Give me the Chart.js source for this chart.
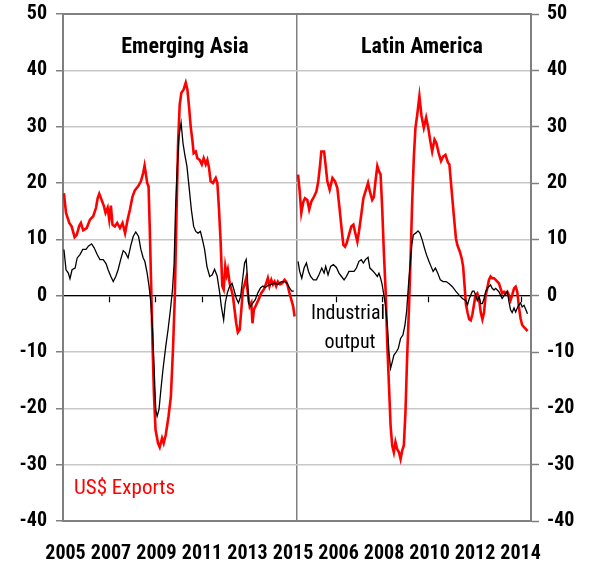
<!DOCTYPE html>
<html lang="en">
<head>
<meta charset="utf-8">
<script src="https://cdn.jsdelivr.net/npm/chart.js"></script>
<title>Exports and industrial output</title>
<style>
  body { margin: 0; background: #fff; }
</style>
</head>
<body>
<div style="width: 591px; height: 571px;">
  <canvas id="myChart" width="591" height="571"></canvas>
</div>
<script>
  const FONT = '"Roboto Condensed", "Liberation Sans Narrow", "Arial Narrow", Arial, sans-serif';

  // both panels run from 2005 to early 2015 (decimal years, % y/y)
  const PANEL_START = 2005;
  const PANEL_SPAN = 10.04;

  const asiaExportDates = [2005.04,2005.13,2005.27,2005.37,2005.50,2005.59,2005.70,2005.77,2005.87,2006.02,2006.16,2006.30,2006.42,2006.49,2006.56,2006.66,2006.76,2006.83,2006.92,2006.99,2007.06,2007.13,2007.23,2007.33,2007.45,2007.56,2007.67,2007.78,2007.88,2007.99,2008.09,2008.23,2008.35,2008.45,2008.51,2008.56,2008.62,2008.68,2008.73,2008.79,2008.85,2008.91,2008.98,2009.09,2009.16,2009.26,2009.33,2009.42,2009.54,2009.64,2009.73,2009.81,2009.88,2009.95,2010.02,2010.09,2010.19,2010.28,2010.35,2010.42,2010.49,2010.57,2010.62,2010.71,2010.78,2010.88,2010.97,2011.05,2011.14,2011.21,2011.28,2011.35,2011.45,2011.57,2011.64,2011.71,2011.78,2011.85,2011.91,2011.98,2012.04,2012.09,2012.17,2012.24,2012.31,2012.38,2012.45,2012.52,2012.60,2012.67,2012.74,2012.81,2012.88,2012.95,2013.03,2013.10,2013.15,2013.21,2013.31,2013.41,2013.53,2013.64,2013.74,2013.81,2013.88,2013.96,2014.03,2014.10,2014.17,2014.24,2014.34,2014.43,2014.53,2014.60,2014.67,2014.74,2014.82,2014.90,2014.96];
  const asiaExports = [18.2,14.7,12.9,12.3,10.4,10.8,12.4,12.9,11.6,12.0,13.5,14.1,15.6,17.3,18.1,17.0,15.9,14.7,15.6,13.5,16.0,12.6,12.3,12.9,12.0,12.9,11.1,13.5,15.3,17.6,18.7,19.4,20.3,21.8,23.1,21.8,20.0,19.4,12.3,2.2,-8.4,-17.3,-23.8,-26.2,-26.9,-25.3,-26.2,-24.7,-21.4,-17.9,-9.6,-0.1,14.1,27.1,33.9,36.0,36.6,37.8,36.6,33.6,30.1,27.4,25.3,25.6,24.4,24.1,23.3,24.4,23.3,24.1,22.7,20.3,20.0,20.9,20.0,15.3,9.6,1.7,1.1,5.2,3.7,4.6,2.2,1.1,-0.1,-2.5,-4.9,-6.5,-6.0,-2.5,1.1,2.0,3.1,0.5,-1.9,-1.3,-4.9,-2.5,-1.6,-0.7,0.5,1.1,2.2,3.1,1.7,2.8,2.0,2.5,1.7,2.5,2.0,2.2,2.8,2.5,1.7,0.5,-0.7,-1.9,-3.7];

  const asiaOutputDates = [2005.04,2005.13,2005.23,2005.30,2005.39,2005.52,2005.61,2005.73,2005.85,2005.99,2006.09,2006.23,2006.34,2006.47,2006.59,2006.73,2006.85,2006.94,2007.06,2007.16,2007.27,2007.37,2007.48,2007.59,2007.69,2007.80,2007.91,2008.02,2008.13,2008.25,2008.35,2008.45,2008.52,2008.62,2008.70,2008.78,2008.85,2008.92,2008.99,2009.05,2009.13,2009.21,2009.30,2009.42,2009.52,2009.62,2009.71,2009.78,2009.84,2009.91,2009.99,2010.08,2010.16,2010.24,2010.33,2010.42,2010.52,2010.62,2010.71,2010.81,2010.91,2011.00,2011.09,2011.19,2011.31,2011.42,2011.52,2011.63,2011.74,2011.81,2011.91,2011.98,2012.07,2012.17,2012.27,2012.35,2012.45,2012.55,2012.64,2012.74,2012.81,2012.88,2012.93,2012.98,2013.07,2013.17,2013.27,2013.38,2013.50,2013.60,2013.70,2013.81,2013.96,2014.10,2014.24,2014.39,2014.53,2014.64,2014.74,2014.84,2014.93];
  const asiaOutput = [8.2,4.6,4.0,3.0,4.6,4.9,6.7,7.3,8.2,8.2,8.8,9.2,8.5,7.3,6.4,6.4,5.7,4.6,3.4,2.5,3.4,4.6,6.4,8.0,7.6,6.7,8.8,10.5,11.3,10.5,8.2,6.7,6.1,4.0,1.7,-1.3,-6.0,-13.1,-20.2,-21.4,-20.2,-16.7,-13.1,-9.0,-6.0,-2.5,1.1,5.8,15.3,22.4,28.3,30.7,27.1,25.0,23.0,19.4,15.3,12.3,11.4,11.1,11.4,9.9,8.2,5.2,3.4,3.7,4.7,3.5,0.5,-1.9,-4.3,-1.3,0.5,1.7,2.2,1.1,-0.4,-1.3,-0.1,3.4,5.8,6.4,3.4,-1.3,-1.9,-1.3,-0.7,0.5,1.4,1.7,1.4,1.8,2.0,2.2,2.0,2.5,2.5,2.2,1.4,0.8,0.8];

  const latamExportDates = [2005.07,2005.14,2005.21,2005.30,2005.37,2005.47,2005.55,2005.64,2005.76,2005.86,2005.94,2006.02,2006.07,2006.19,2006.26,2006.33,2006.43,2006.55,2006.66,2006.76,2006.86,2006.94,2007.02,2007.09,2007.16,2007.26,2007.36,2007.45,2007.55,2007.62,2007.69,2007.79,2007.88,2007.97,2008.08,2008.16,2008.26,2008.33,2008.40,2008.48,2008.55,2008.62,2008.69,2008.76,2008.84,2008.91,2008.98,2009.05,2009.12,2009.19,2009.26,2009.33,2009.41,2009.48,2009.55,2009.62,2009.69,2009.76,2009.84,2009.91,2009.98,2010.05,2010.12,2010.19,2010.29,2010.38,2010.48,2010.58,2010.67,2010.76,2010.84,2010.94,2011.02,2011.12,2011.22,2011.31,2011.41,2011.52,2011.58,2011.68,2011.78,2011.86,2011.92,2012.03,2012.11,2012.17,2012.23,2012.29,2012.36,2012.43,2012.50,2012.57,2012.64,2012.71,2012.78,2012.86,2012.93,2013.00,2013.07,2013.14,2013.21,2013.28,2013.35,2013.42,2013.50,2013.57,2013.64,2013.71,2013.78,2013.85,2013.93,2014.00,2014.07,2014.14,2014.21,2014.28,2014.36,2014.43,2014.50,2014.57,2014.64,2014.71,2014.79,2014.86,2014.94];
  const latamExports = [21.5,18.5,14.7,16.7,17.3,17.0,15.3,16.7,17.6,18.5,20.3,23.3,25.6,25.6,23.0,20.3,18.8,20.9,20.3,19.1,15.3,12.0,9.0,8.7,9.3,10.8,12.3,12.6,10.8,9.6,11.4,14.4,17.3,18.5,20.0,18.5,17.0,17.5,20.3,23.0,22.1,21.5,15.5,7.8,0.5,-8.8,-15.9,-23.0,-26.6,-27.8,-26.0,-27.2,-27.8,-29.0,-27.5,-26.6,-20.7,-11.2,-2.3,6.6,16.7,24.5,29.8,31.9,35.4,31.9,29.8,31.6,29.8,27.4,25.6,27.7,27.1,25.3,23.9,24.7,25.0,23.6,23.3,18.5,13.8,10.2,9.0,7.8,6.6,5.2,1.9,-1.5,-3.0,-4.2,-4.4,-3.3,-1.5,0.1,0.4,-0.8,-3.0,-4.2,-3.0,0.1,1.3,2.8,3.4,3.1,3.1,2.8,2.5,2.2,1.3,0.4,0.7,0.4,0.7,0.1,-0.8,0.1,1.3,1.6,0.7,-2.0,-4.0,-5.2,-5.6,-5.9,-6.3];

  const latamOutputDates = [2005.07,2005.14,2005.23,2005.33,2005.43,2005.52,2005.61,2005.73,2005.86,2005.97,2006.09,2006.19,2006.26,2006.36,2006.47,2006.59,2006.72,2006.83,2006.94,2007.05,2007.15,2007.26,2007.37,2007.48,2007.58,2007.69,2007.79,2007.88,2007.97,2008.08,2008.16,2008.26,2008.37,2008.48,2008.55,2008.62,2008.69,2008.76,2008.83,2008.91,2008.98,2009.05,2009.12,2009.19,2009.29,2009.38,2009.48,2009.58,2009.67,2009.74,2009.82,2009.89,2009.96,2010.03,2010.13,2010.23,2010.31,2010.41,2010.51,2010.60,2010.70,2010.79,2010.88,2010.98,2011.08,2011.19,2011.31,2011.44,2011.57,2011.71,2011.85,2012.00,2012.14,2012.29,2012.36,2012.43,2012.50,2012.57,2012.64,2012.71,2012.78,2012.86,2012.93,2013.00,2013.07,2013.14,2013.21,2013.28,2013.35,2013.42,2013.50,2013.57,2013.64,2013.71,2013.78,2013.85,2013.93,2014.00,2014.07,2014.14,2014.21,2014.28,2014.36,2014.43,2014.50,2014.57,2014.64,2014.71,2014.79,2014.86,2014.94];
  const latamOutput = [6.1,4.3,3.1,4.9,5.8,4.3,3.4,2.8,2.8,3.7,4.9,4.0,5.2,3.7,5.2,5.5,5.0,4.0,3.4,2.8,3.4,4.3,4.3,4.3,4.9,6.1,6.4,5.8,6.4,6.8,4.9,4.5,4.0,3.4,4.0,3.1,1.9,0.1,-1.7,-5.2,-10.0,-12.9,-11.8,-10.6,-10.0,-9.4,-7.6,-7.0,-5.2,-2.8,1.9,5.5,9.0,10.8,11.1,11.5,11.1,9.9,8.4,7.2,6.1,5.2,4.3,4.9,4.0,2.8,2.5,2.5,2.1,1.6,0.8,0.1,-0.5,-0.9,-1.6,-0.6,0.1,0.8,0.8,0.1,-0.9,-0.2,-1.4,-1.4,-0.5,0.7,1.3,1.6,1.9,1.3,1.0,1.3,1.0,0.7,0.1,-0.5,0.0,0.4,0.7,-1.0,-2.5,-3.0,-2.2,-2.9,-2.2,-1.6,-1.3,-2.0,-1.7,-2.4,-3.2];

  const yearLabels = ['2005','2007','2009','2011','2013','2015','2006','2008','2010','2012','2014'];
  const zeroTickYears = [2007, 2009, 2011, 2013];
  const zeroTickYearsRight = [2006.73, 2008.71, 2010.69, 2012.68, 2014.66];

  // panel 0 = Emerging Asia, panel 1 = Latin America (shifted right by one panel width)
  function toPoints(dates, values, panel) {
    return dates.map((d, i) => ({ x: d - PANEL_START + panel * PANEL_SPAN, y: values[i] }));
  }

  const GRID = '#c8c8c8';
  const FRAME = '#808080';

  const panelText = {
    id: 'panelText',
    afterDraw(chart) {
      const ctx = chart.ctx;
      ctx.save();
      ctx.textBaseline = 'middle';
      ctx.textAlign = 'center';
      ctx.fillStyle = '#000';
      ctx.font = 'bold 22px ' + FONT;
      ctx.fillText('Emerging Asia', 185, 47);
      ctx.fillText('Latin America', 422, 47);
      ctx.font = '20px ' + FONT;
      ctx.fillText('Industrial', 348, 314);
      ctx.fillText('output', 350, 343);
      ctx.fillStyle = '#ff0000';
      ctx.textAlign = 'left';
      ctx.font = '21px ' + FONT;
      ctx.fillText('US$ Exports', 74, 489);
      ctx.restore();
    }
  };

  const noPad = s => { s.paddingLeft = 0; s.paddingRight = 0; s.paddingTop = 0; s.paddingBottom = 0; };

  const config = {
    type: 'line',
    data: {
      datasets: [
        { label: 'Asia industrial output', data: toPoints(asiaOutputDates, asiaOutput, 0), borderColor: '#000', borderWidth: 1.3 },
        { label: 'Latin America industrial output', data: toPoints(latamOutputDates, latamOutput, 1), borderColor: '#000', borderWidth: 1.3 },
        { label: 'Asia US$ exports', data: toPoints(asiaExportDates, asiaExports, 0), borderColor: '#ff0000', borderWidth: 2.6 },
        { label: 'Latin America US$ exports', data: toPoints(latamExportDates, latamExports, 1), borderColor: '#ff0000', borderWidth: 2.6 }
      ]
    },
    options: {
      responsive: false,
      animation: false,
      devicePixelRatio: 1,
      layout: { padding: { top: 14, left: 0, right: 0, bottom: 0 } },
      elements: { point: { radius: 0 }, line: { tension: 0 } },
      plugins: { legend: { display: false }, tooltip: { enabled: false } },
      scales: {
        x: {
          type: 'linear',
          position: { y: 0 },
          min: 0,
          max: 2 * PANEL_SPAN + 0.05,
          afterBuildTicks: s => {
            s.ticks = zeroTickYears.map(v => ({ value: v - PANEL_START }))
              .concat(zeroTickYearsRight.map(v => ({ value: v - PANEL_START + PANEL_SPAN })));
          },
          ticks: { display: false },
          grid: { drawOnChartArea: false, drawTicks: true, tickLength: 6, tickColor: '#000', tickWidth: 1.2 },
          border: { color: '#000', width: 1.3 }
        },
        xt: {
          type: 'linear',
          position: 'top',
          min: 0,
          max: 1,
          ticks: { display: false },
          grid: { drawOnChartArea: false, drawTicks: false },
          border: { color: FRAME, width: 2 },
          afterFit: s => { s.height = 0; noPad(s); }
        },
        xd: {
          type: 'linear',
          position: 'bottom',
          weight: 0,
          min: 0,
          max: 2 * PANEL_SPAN + 0.05,
          afterBuildTicks: s => { s.ticks = [{ value: PANEL_SPAN }]; },
          ticks: { display: false },
          grid: { drawOnChartArea: true, drawTicks: false, color: FRAME, lineWidth: 1.5 },
          border: { color: FRAME, width: 2 },
          afterFit: s => { s.height = 0; noPad(s); }
        },
        xl: {
          type: 'linear',
          position: 'bottom',
          weight: 1,
          min: -0.055,
          max: 10.23,
          afterBuildTicks: s => { s.ticks = yearLabels.map((t, i) => ({ value: i })); },
          ticks: {
            autoSkip: false,
            maxRotation: 0,
            padding: 21,
            color: '#000',
            font: { family: FONT, size: 20, weight: 'bold' },
            callback: (v, i) => yearLabels[i]
          },
          grid: { display: false, drawTicks: false },
          border: { display: false },
          afterFit: s => { s.height = 50; noPad(s); }
        },
        y: {
          position: 'left',
          min: -40,
          max: 50,
          ticks: { stepSize: 10, padding: 9, color: '#000', font: { family: FONT, size: 20, weight: 'bold' } },
          grid: { color: GRID, lineWidth: 1.5, tickColor: FRAME, tickLength: 7, tickWidth: 1.5 },
          border: { color: FRAME, width: 2 },
          afterFit: s => { s.width = 63; noPad(s); }
        },
        y2: {
          position: 'right',
          min: -40,
          max: 50,
          ticks: { stepSize: 10, padding: 8, color: '#000', font: { family: FONT, size: 20, weight: 'bold' } },
          grid: { drawOnChartArea: false, tickColor: FRAME, tickLength: 8, tickWidth: 1.5 },
          border: { color: FRAME, width: 2 },
          afterFit: s => { s.width = 60; noPad(s); }
        }
      }
    },
    plugins: [panelText]
  };

  const myChart = new Chart(document.getElementById('myChart'), config);
</script>
</body>
</html>
